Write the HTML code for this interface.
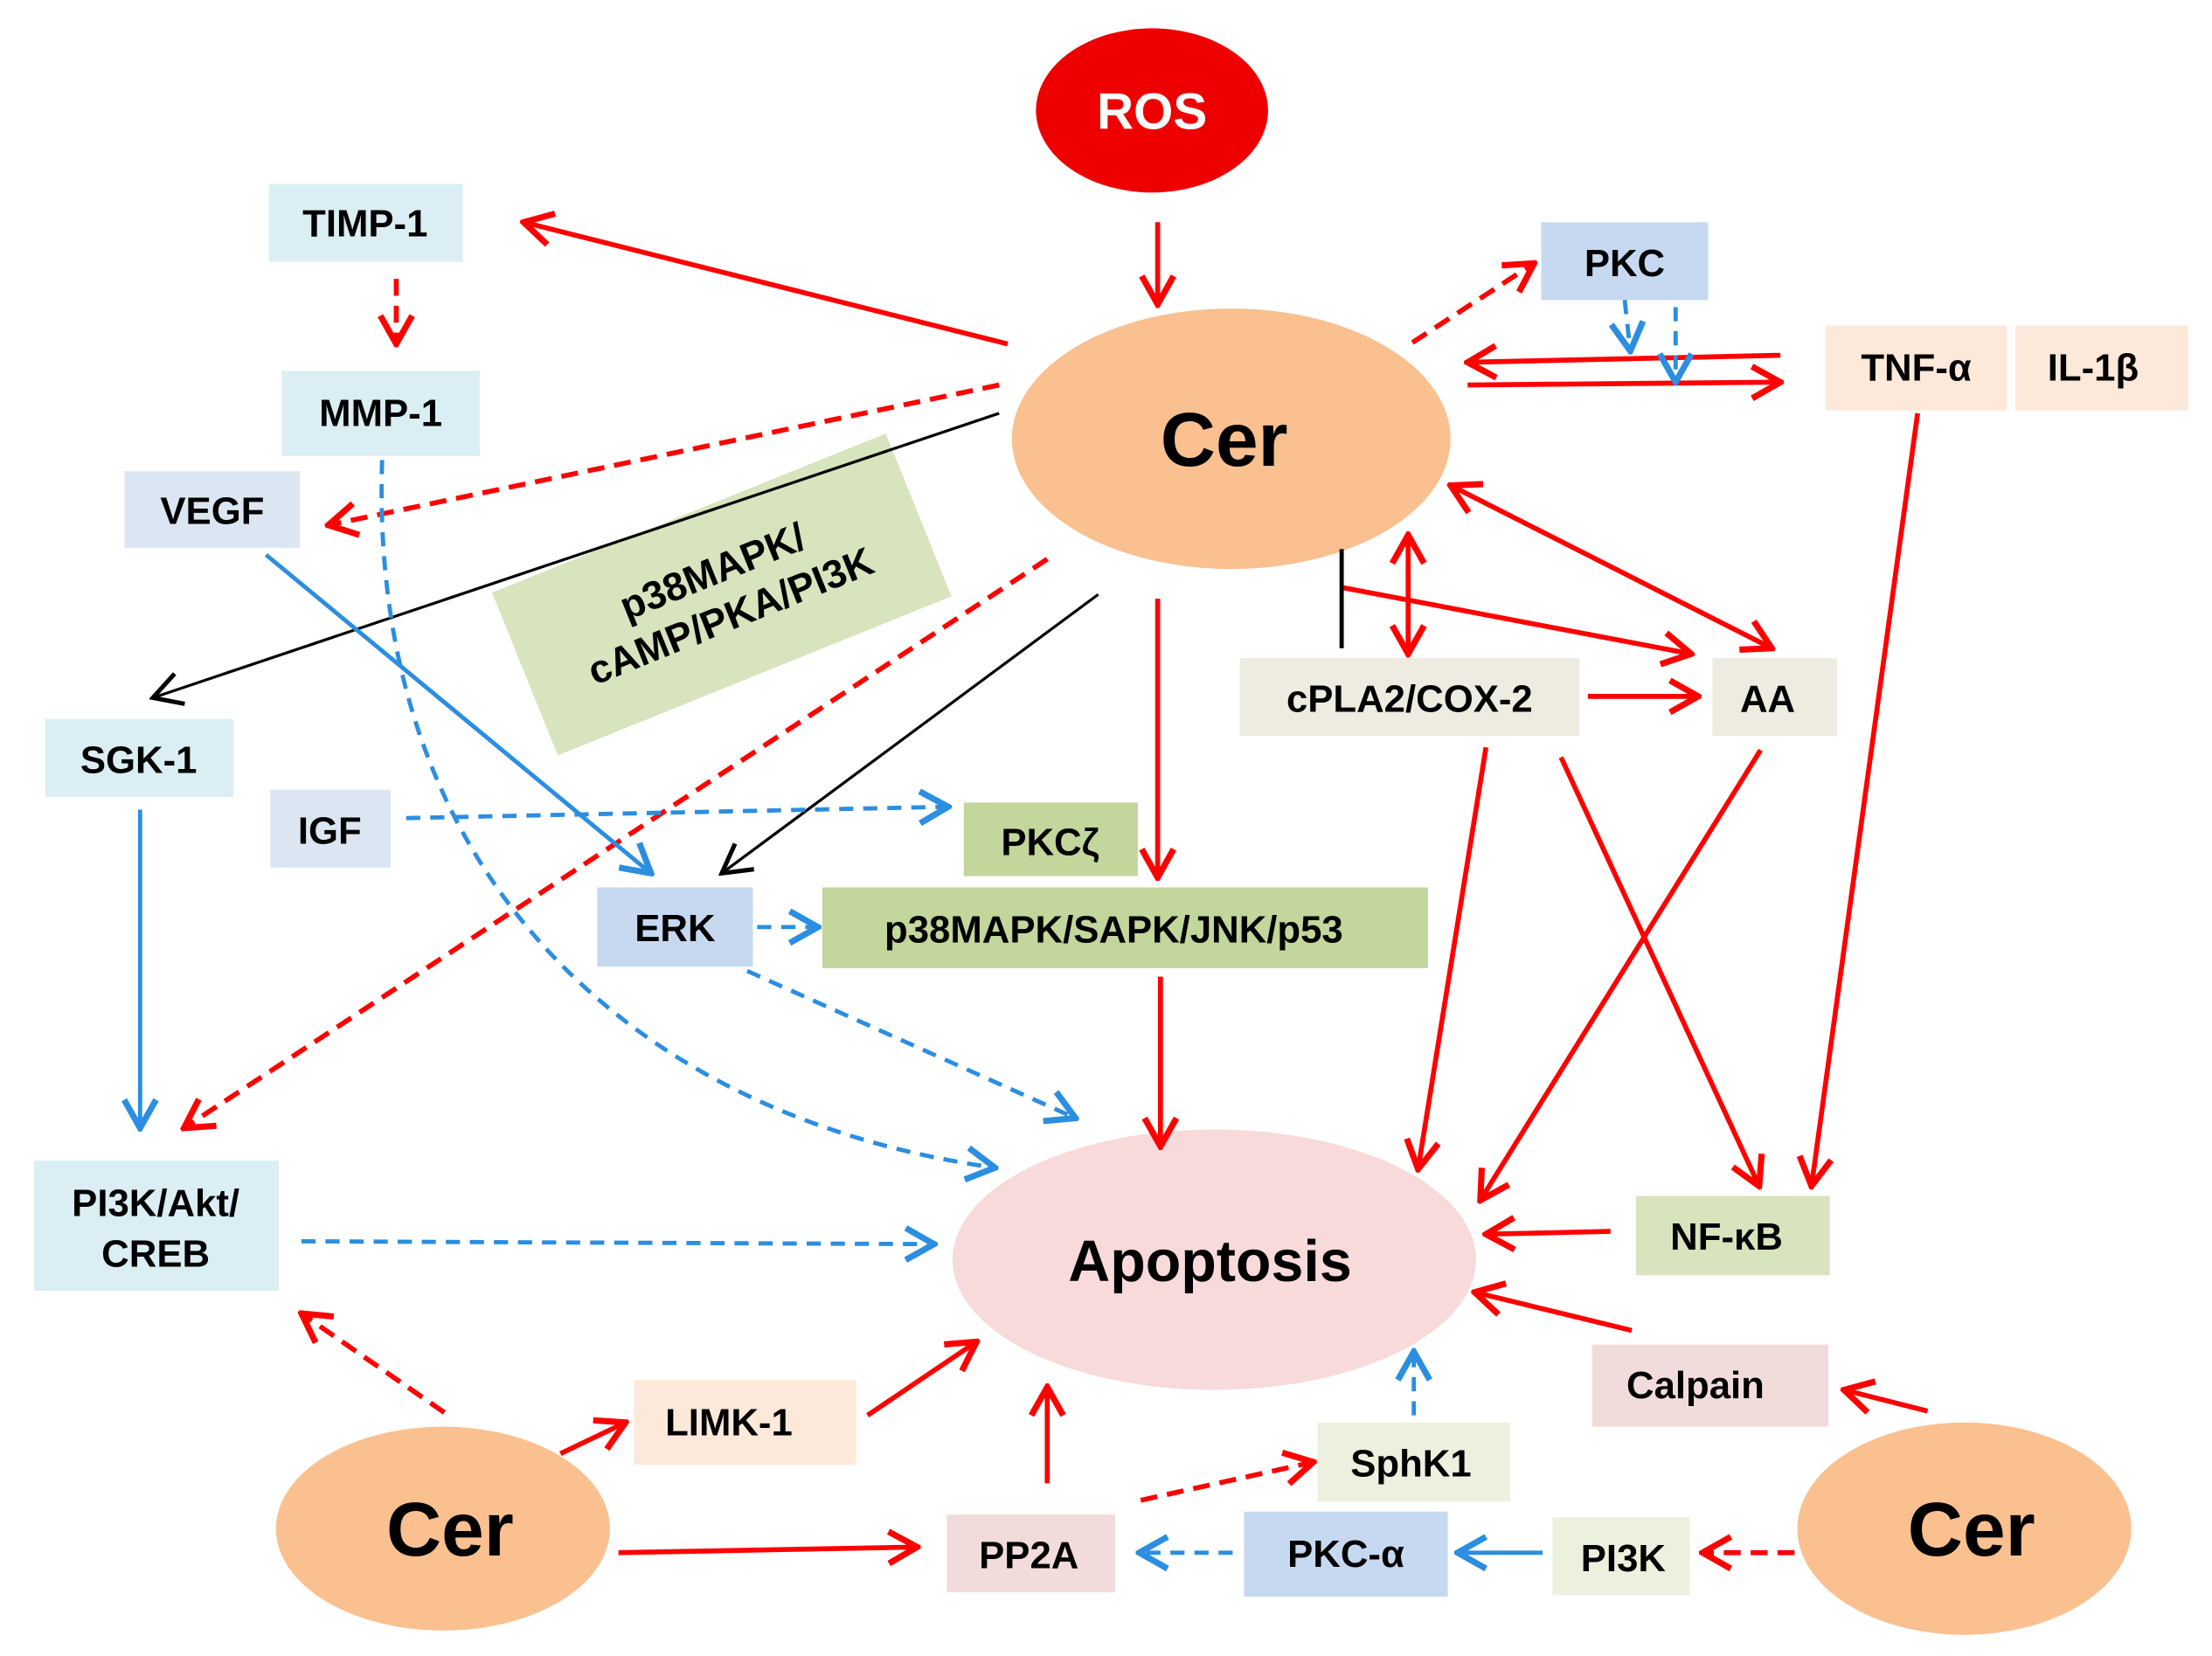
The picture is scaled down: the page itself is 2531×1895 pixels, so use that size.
<!DOCTYPE html>
<html><head><meta charset="utf-8"><style>
html,body{margin:0;padding:0;background:#fff;}
svg{display:block;}
text{font-family:"Liberation Sans",Arial,sans-serif;font-weight:bold;}
</style></head><body>
<svg width="2531" height="1895" viewBox="0 0 1563 1170" preserveAspectRatio="none" xmlns="http://www.w3.org/2000/svg">
<defs>
<marker id="r" markerUnits="userSpaceOnUse" markerWidth="30" markerHeight="30" refX="22" refY="12" orient="auto" viewBox="0 0 24 24"><path d="M6,3 L22,12 L6,21" fill="none" stroke="#ff0000" stroke-width="3.5"/></marker>
<marker id="b" markerUnits="userSpaceOnUse" markerWidth="30" markerHeight="30" refX="22" refY="12" orient="auto" viewBox="0 0 24 24"><path d="M6,3 L22,12 L6,21" fill="none" stroke="#2b8ee0" stroke-width="3.5"/></marker>
<marker id="k" markerUnits="userSpaceOnUse" markerWidth="30" markerHeight="30" refX="22" refY="12" orient="auto" viewBox="0 0 24 24"><path d="M6,3 L22,12 L6,21" fill="none" stroke="#000" stroke-width="2.5"/></marker>
<marker id="rs" markerUnits="userSpaceOnUse" markerWidth="30" markerHeight="30" refX="2" refY="12" orient="auto" viewBox="0 0 24 24"><path d="M18,3 L2,12 L18,21" fill="none" stroke="#ff0000" stroke-width="3.5"/></marker>
</defs>

<ellipse cx="814" cy="78" rx="82" ry="58" fill="#ee0000"/>
<text x="814" y="91" font-size="36" fill="#fff" text-anchor="middle">ROS</text>
<ellipse cx="870" cy="310" rx="155" ry="92" fill="#fac090"/>
<text x="865" y="329" font-size="54" text-anchor="middle">Cer</text>
<ellipse cx="858" cy="890" rx="185" ry="92" fill="#f8dada"/>
<text x="855" y="905" font-size="41" text-anchor="middle">Apoptosis</text>
<ellipse cx="313" cy="1080" rx="118" ry="72" fill="#fac090"/>
<text x="318" y="1099" font-size="54" text-anchor="middle">Cer</text>
<ellipse cx="1388" cy="1080" rx="118" ry="75" fill="#fac090"/>
<text x="1393" y="1099" font-size="54" text-anchor="middle">Cer</text>

<g transform="translate(510,420) rotate(-22)">
<rect x="-150" y="-62" width="300" height="124" fill="#d7e4bd"/>
<text x="0" y="-8" font-size="28" text-anchor="middle">p38MAPK/</text>
<text x="0" y="26" font-size="28" text-anchor="middle">cAMP/PKA/PI3K</text>
</g>

<g font-size="27">
<rect x="190" y="130" width="137" height="55" fill="#daeef3"/><text x="258" y="167" text-anchor="middle">TIMP-1</text>
<rect x="199" y="262" width="140" height="60" fill="#daeef3"/><text x="269" y="301" text-anchor="middle">MMP-1</text>
<rect x="88" y="333" width="124" height="54" fill="#dce6f2"/><text x="150" y="370" text-anchor="middle">VEGF</text>
<rect x="32" y="508" width="133" height="55" fill="#daeef3"/><text x="98" y="546" text-anchor="middle">SGK-1</text>
<rect x="191" y="558" width="85" height="55" fill="#dce6f2"/><text x="233" y="596" text-anchor="middle">IGF</text>
<rect x="681" y="567" width="123" height="52" fill="#c3d69b"/><text x="742" y="604" text-anchor="middle">PKCζ</text>
<rect x="422" y="627" width="110" height="56" fill="#c6d9f1"/><text x="477" y="665" text-anchor="middle">ERK</text>
<rect x="581" y="627" width="428" height="57" fill="#c3d69b"/><text x="787" y="666" text-anchor="middle">p38MAPK/SAPK/JNK/p53</text>
<rect x="1089" y="157" width="118" height="55" fill="#c6d9f1"/><text x="1148" y="195" text-anchor="middle">PKC</text>
<rect x="1290" y="230" width="128" height="60" fill="#fde9d9"/><text x="1354" y="269" text-anchor="middle">TNF-α</text>
<rect x="1424" y="230" width="122" height="60" fill="#fde9d9"/><text x="1479" y="269" text-anchor="middle">IL-1β</text>
<rect x="876" y="465" width="240" height="55" fill="#eeece1"/><text x="996" y="503" text-anchor="middle">cPLA2/COX-2</text>
<rect x="1210" y="465" width="88" height="55" fill="#eeece1"/><text x="1249" y="503" text-anchor="middle">AA</text>
<rect x="1156" y="845" width="137" height="56" fill="#d7e4bd"/><text x="1220" y="883" text-anchor="middle">NF-κB</text>
<rect x="24" y="820" width="173" height="92" fill="#daeef3"/><text x="110" y="859" text-anchor="middle">PI3K/Akt/</text><text x="110" y="895" text-anchor="middle">CREB</text>
<rect x="1125" y="950" width="167" height="58" fill="#f2dcdb"/><text x="1198" y="988" text-anchor="middle">Calpain</text>
<rect x="448" y="975" width="157" height="60" fill="#fde9d9"/><text x="515" y="1014" text-anchor="middle">LIMK-1</text>
<rect x="931" y="1005" width="136" height="56" fill="#ebf1de"/><text x="997" y="1043" text-anchor="middle">SphK1</text>
<rect x="669" y="1070" width="119" height="55" fill="#f2dcdb"/><text x="727" y="1108" text-anchor="middle">PP2A</text>
<rect x="879" y="1068" width="144" height="60" fill="#c6d9f1"/><text x="951" y="1107" text-anchor="middle">PKC-α</text>
<rect x="1097" y="1072" width="97" height="55" fill="#ebf1de"/><text x="1147" y="1110" text-anchor="middle">PI3K</text>
</g>

<g stroke="#ff0000" stroke-width="3.5" fill="none" marker-end="url(#r)">
<line x1="818" y1="157" x2="818" y2="215"/>
<line x1="712" y1="243" x2="370" y2="157"/>
<line x1="818" y1="423" x2="818" y2="620"/>
<line x1="820" y1="690" x2="820" y2="810"/>
<line x1="1258" y1="251" x2="1037" y2="256"/>
<line x1="1037" y1="272" x2="1258" y2="270"/>
<line x1="1355" y1="292" x2="1280" y2="838"/>
<line x1="1025" y1="343" x2="1252" y2="458" marker-start="url(#rs)"/>
<line x1="995" y1="378" x2="995" y2="462" marker-start="url(#rs)"/>
<line x1="948" y1="415" x2="1195" y2="462"/>
<line x1="1122" y1="492" x2="1200" y2="492"/>
<line x1="1050" y1="528" x2="1002" y2="826"/>
<line x1="1103" y1="535" x2="1243" y2="838"/>
<line x1="1244" y1="530" x2="1046" y2="848"/>
<line x1="1138" y1="870" x2="1050" y2="872"/>
<line x1="1153" y1="940" x2="1042" y2="913"/>
<line x1="1362" y1="997" x2="1303" y2="982"/>
<line x1="740" y1="1048" x2="740" y2="980"/>
<line x1="613" y1="1000" x2="690" y2="948"/>
<line x1="396" y1="1027" x2="442" y2="1005"/>
<line x1="437" y1="1097" x2="648" y2="1093"/>
</g>
<g stroke="#ff0000" stroke-width="3.5" fill="none" stroke-dasharray="12,7" marker-end="url(#r)">
<line x1="280" y1="197" x2="280" y2="243"/>
<line x1="706" y1="272" x2="232" y2="371"/>
<line x1="740" y1="395" x2="130" y2="797"/>
<line x1="998" y1="242" x2="1084" y2="186"/>
<line x1="1268" y1="1097" x2="1203" y2="1097"/>
<line x1="806" y1="1060" x2="928" y2="1033"/>
<line x1="314" y1="998" x2="213" y2="928"/>
</g>
<g stroke="#000" stroke-width="2" fill="none" marker-end="url(#k)">
<line x1="706" y1="292" x2="108" y2="493"/>
<line x1="776" y1="420" x2="510" y2="617"/>
</g>
<line x1="948" y1="388" x2="948" y2="458" stroke="#000" stroke-width="3"/>
<g stroke="#2b8ee0" stroke-width="3" fill="none" marker-end="url(#b)">
<line x1="188" y1="392" x2="460" y2="617"/>
<line x1="99" y1="572" x2="99" y2="797"/>
<line x1="1090" y1="1097" x2="1030" y2="1097"/>
</g>
<g stroke="#2b8ee0" stroke-width="3" fill="none" stroke-dasharray="10,7" marker-end="url(#b)">
<path d="M270,325 C260,620 450,790 703,825"/>
<line x1="287" y1="578" x2="670" y2="570"/>
<line x1="535" y1="655" x2="578" y2="655"/>
<line x1="528" y1="686" x2="760" y2="790"/>
<line x1="213" y1="877" x2="660" y2="879"/>
<line x1="1148" y1="212" x2="1152" y2="248"/>
<line x1="1184" y1="217" x2="1184" y2="270"/>
<line x1="871" y1="1097" x2="805" y2="1097"/>
<line x1="999" y1="1000" x2="999" y2="955"/>
</g>
</svg>
</body></html>
